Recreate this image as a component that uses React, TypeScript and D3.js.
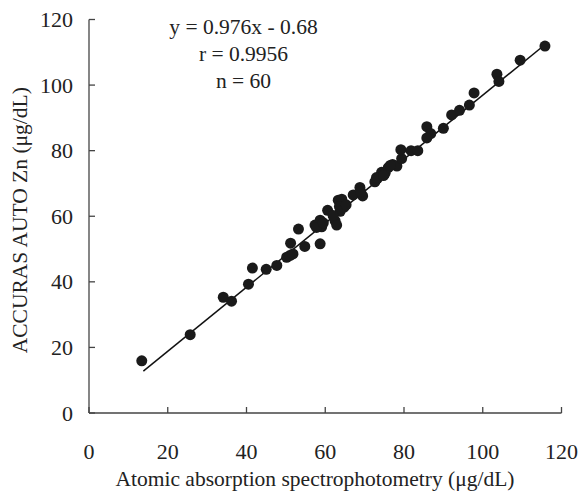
import React from "react";
import * as d3 from "d3";

const xTicks = [0, 20, 40, 60, 80, 100, 120];
const yTicks = [0, 20, 40, 60, 80, 100, 120];

const aasValues = [
  13.4, 25.7, 34.1, 36.2, 40.5, 41.5, 45.0, 47.7, 50.2, 51.0,
  51.2, 53.2, 54.8, 57.4, 58.7, 59.1, 58.7, 60.6, 62.5, 62.9,
  63.3, 64.2, 64.8, 63.6, 67.1, 68.8, 69.5, 72.6, 73.2, 74.3,
  75.2, 76.0, 77.1, 78.2, 79.4, 79.2, 81.8, 83.5, 85.8, 86.8,
  85.8, 90.0, 92.1, 94.1, 96.6, 97.8, 103.6, 104.1, 109.5, 115.8,
  57.8, 59.5, 63.8, 65.3, 69.0, 73.0, 76.5, 74.8, 51.8, 62.0,
];
const accurasValues = [
  15.9, 23.9, 35.3, 34.1, 39.3, 44.2, 43.8, 45.0, 47.5, 48.0,
  51.8, 56.1, 50.8, 57.3, 58.8, 56.8, 51.6, 61.8, 58.6, 57.3,
  64.9, 65.2, 62.8, 63.0, 66.5, 68.8, 66.2, 70.5, 71.5, 73.4,
  73.1, 74.8, 75.8, 75.3, 77.6, 80.3, 80.0, 80.0, 87.3, 85.2,
  83.9, 86.8, 90.9, 92.3, 93.9, 97.6, 103.3, 101.1, 107.6, 111.9,
  56.6, 58.0, 61.5, 63.5, 67.5, 71.8, 75.5, 72.4, 48.5, 60.2,
];
const slope = 0.976;
const intercept = -0.68;
const fitRange = [13.8, 116];
const statLines = ["y = 0.976x - 0.68", "r = 0.9956", "n = 60"];
const xTitle = "Atomic absorption spectrophotometry (μg/dL)";
const yTitle = "ACCURAS AUTO Zn (μg/dL)";

export default function App() {
  const W = 578, H = 492;
  const x = d3.scaleLinear().domain([0, 120]).range([89, 561.5]);
  const y = d3.scaleLinear().domain([0, 120]).range([413, 19.5]);
  const font = '"Liberation Serif", "Times New Roman", Times, serif';
  const axisColor = "#444";
  const line = d3.line<number>().x((d) => x(d)).y((d) => y(slope * d + intercept));
  return (
    <svg width={W} height={H} style={{ position: "absolute", left: 0, top: 0, background: "#fff", fontFamily: font }}>
      <rect width={W} height={H} fill="#fff" />
      <line x1={x(0)} x2={x(120)} y1={y(0)} y2={y(0)} stroke={axisColor} strokeWidth={1.3} />
      <line x1={x(0)} x2={x(0)} y1={y(0)} y2={y(120)} stroke={axisColor} strokeWidth={1.3} />
      {xTicks.map((t) => (
        <g key={"x" + t}>
          <line x1={x(t)} x2={x(t)} y1={y(0)} y2={y(0) - 6} stroke={axisColor} strokeWidth={1.3} />
          <text x={x(t)} y={459} textAnchor="middle" fontSize={22} fill="#222" style={{ fontFamily: font }}>{t}</text>
        </g>
      ))}
      {yTicks.map((t) => (
        <g key={"y" + t}>
          <line x1={x(0)} x2={x(0) + 6} y1={y(t)} y2={y(t)} stroke={axisColor} strokeWidth={1.3} />
          <text x={73} y={y(t) + 7.5} textAnchor="end" fontSize={22} fill="#222" style={{ fontFamily: font }}>{t}</text>
        </g>
      ))}
      <path d={line(fitRange) || ""} stroke="#111" strokeWidth={1.5} fill="none" />
      {aasValues.map((v, i) => (
        <circle key={i} cx={x(v)} cy={y(accurasValues[i])} r={5.5} fill="#1a1a1a" />
      ))}
      {statLines.map((s, i) => (
        <text key={s} x={243.5} y={34 + i * 27} textAnchor="middle" fontSize={21.5} fill="#222" style={{ fontFamily: font }}>{s}</text>
      ))}
      <text x={315} y={486} textAnchor="middle" fontSize={21.5} fill="#222" style={{ fontFamily: font }}>{xTitle}</text>
      <text transform={`translate(27, ${(y(0) + y(120)) / 2 + 4}) rotate(-90)`} textAnchor="middle" fontSize={21.5} fill="#222" style={{ fontFamily: font }}>{yTitle}</text>
    </svg>
  );
}
